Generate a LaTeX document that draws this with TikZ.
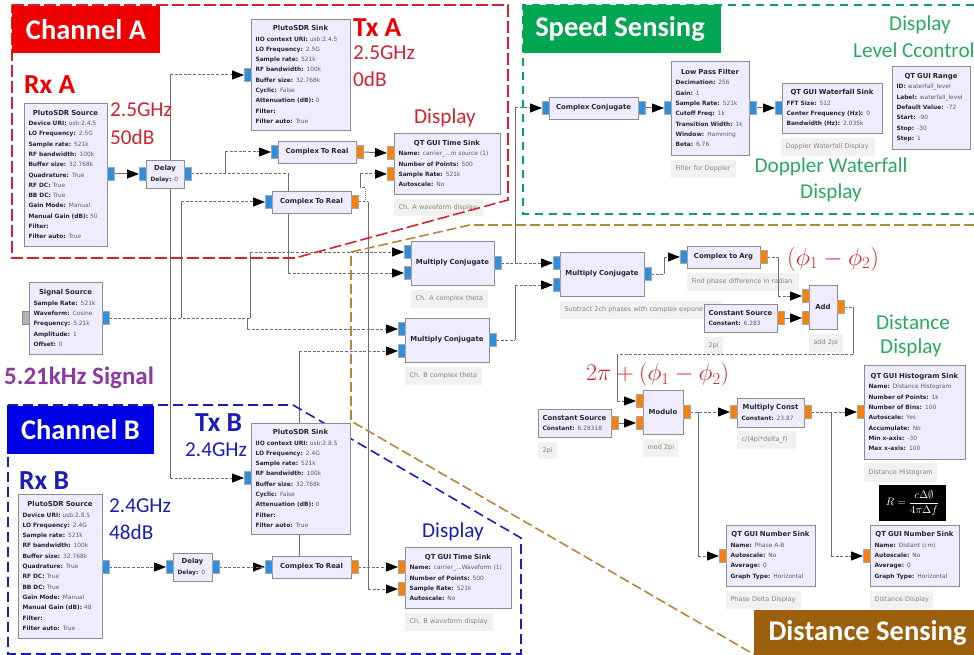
\documentclass[tikz,border=0pt]{standalone}
\usepackage{fontspec}
\setmainfont{Carlito}
\newfontfamily\grcfont{DejaVu Sans}
\usetikzlibrary{arrows.meta,backgrounds}
\definecolor{blockfill}{HTML}{F0ECFF}
\definecolor{blockedge}{HTML}{8C8C94}
\definecolor{keyink}{HTML}{26262E}
\definecolor{valink}{HTML}{5A5A62}
\definecolor{portblue}{HTML}{2F8FDC}
\definecolor{portorange}{HTML}{F5820D}
\definecolor{cmtfill}{HTML}{F1F1F1}
\definecolor{cmtink}{HTML}{85858A}
\definecolor{wireink}{HTML}{6E6E72}
\definecolor{chanred}{HTML}{EE0000}
\definecolor{redtext}{HTML}{CF2330}
\definecolor{redline}{HTML}{D2232F}
\definecolor{chanblue}{HTML}{0000E6}
\definecolor{bluetext}{HTML}{1C1CB8}
\definecolor{changreen}{HTML}{00A651}
\definecolor{greentext}{HTML}{2BA862}
\definecolor{chanbrown}{HTML}{9C5F0C}
\definecolor{brownline}{HTML}{B5873A}
\definecolor{purpletext}{HTML}{8B3A9E}
\tikzset{
  block/.style={draw=blockedge,fill=blockfill,line width=.9pt,anchor=north west,inner xsep=4.5pt,inner ysep=0pt,outer sep=0pt,align=left,text=keyink,font=\grcfont\fontsize{5.9}{10.3}\selectfont},
  port/.style={draw=black!35,line width=.4pt,minimum width=7pt,minimum height=13pt,inner sep=0pt,outer sep=0pt},
  portin/.style={port,fill=portblue},
  portout/.style={port,fill=portorange},
  portnone/.style={port,fill=black!30,draw=black!45},
  note/.style={fill=cmtfill,anchor=north west,inner xsep=4.5pt,inner ysep=0pt,outer sep=0pt,align=left,text=cmtink,font=\grcfont\fontsize{6.5}{8}\selectfont},
  wire/.style={draw=wireink,line width=1pt,dash pattern=on 3pt off 1.6pt},
  trunk/.style={draw=wireink,line width=1pt},
  tipwire/.style={wire,-{Triangle[length=12pt,width=9pt,black]}},
  tiptrunk/.style={trunk,-{Triangle[length=12pt,width=9pt,black]}},
  banner/.style={text=white,inner sep=0pt,outer sep=0pt,font=\fontsize{28.5}{30}\selectfont\bfseries},
  big/.style={anchor=west,inner sep=0pt,font=\fontsize{27.5}{30}\selectfont\bfseries},
  mid/.style={anchor=west,inner sep=0pt,font=\fontsize{21.2}{24}\selectfont},
  midc/.style={inner sep=0pt,font=\fontsize{21.2}{24}\selectfont},
  eqn/.style={anchor=west,inner sep=0pt,text=redtext,font=\fontsize{23.5}{26}\selectfont},
  region/.style={line width=1.6pt}
}
% block body helpers
\newcommand\grcblock[6]{\node[block,text width=\the\dimexpr#4pt-9pt\relax,minimum height=#5pt] (#1) at (#2,#3) {#6};}
\newcommand\grcnote[6]{\node[note,text width=\the\dimexpr#4pt-9pt\relax,minimum height=#5pt] (#1) at (#2,#3) {\mbox{#6}};}
\newcommand\tl[1]{\makebox[\linewidth][c]{\fontsize{6.9}{10.3}\selectfont\bfseries #1}}
\newcommand\kv[2]{\mbox{{\bfseries #1:} \textcolor{valink}{#2}}}
% from, bus, to
\newcommand\buslink[3]{%
  \draw[wire] (#1.east) -- (#1.east -| #2);
  \draw[trunk] (#1.east -| #2) -- (#3.west -| #2);
  \draw[tipwire] (#3.west -| #2) -- (#3.west);
}
\begin{document}
\begin{tikzpicture}[x=1pt,y=-1pt]
\useasboundingbox (0,0) rectangle (974,655);

% comments under everything
\begin{scope}[on background layer]
\grcnote{cmtTa}{394}{199}{89}{17}{Ch. A waveform display}
\grcnote{cmtMa}{411}{290}{77}{18}{Ch. A complex theta}
\grcnote{cmtMb}{405}{367}{77}{18}{Ch. B complex theta}
\grcnote{cmtMc}{560}{301}{163}{18}{Subtract 2ch phases with complex expone}
\grcnote{cmtLp}{671}{160}{65}{18}{Filter for Doppler}
\grcnote{cmtWf}{781}{138}{94}{18}{Doppler Waterfall Display}
\grcnote{cmtArg}{687}{273}{112}{18}{Find phase difference in radian}
\grcnote{cmtCa}{704}{337}{19}{17}{2pi}
\grcnote{cmtAdd}{809}{334}{34}{18}{add 2pi}
\grcnote{cmtMod}{643}{439}{35}{18}{mod 2pi}
\grcnote{cmtCb}{538}{442}{19}{17}{2pi}
\grcnote{cmtMk}{737}{431}{59}{18}{c/(4pi*delta\_f)}
\grcnote{cmtHi}{864}{463}{73}{19}{Distance Histogram}
\grcnote{cmtNa}{726}{591}{75}{18}{Phase Delta Display}
\grcnote{cmtNb}{870}{591}{63}{18}{Distance Display}
\grcnote{cmtTb}{405}{613}{88}{18}{Ch. B waveform display}
\end{scope}

% channel outlines
\draw[region,redline,dash pattern=on 12pt off 4pt] (12,5)--(508,5)--(508,200)--(295,258)--(12,258)--cycle;
\draw[region,changreen,dash pattern=on 8pt off 6pt] (974,5)--(523,5)--(523,214)--(974,214);
\draw[region,brownline,dash pattern=on 10pt off 4pt] (974,225)--(470,225)--(351,252)--(351,421)--(755,655);
\draw[region,bluetext,dash pattern=on 10pt off 5pt] (8,405)--(293,405)--(521,538)--(521,654)--(8,654)--cycle;

% blocks, channel A
\grcblock{srcA}{24}{103}{83}{143}{\tl{PlutoSDR Source}\\\kv{Device URI}{usb:2.4.5}\\\kv{LO Frequency}{2.5G}\\\kv{Sample rate}{521k}\\\kv{RF bandwidth}{100k}\\\kv{Buffer size}{32.768k}\\\kv{Quadrature}{True}\\\kv{RF DC}{True}\\\kv{BB DC}{True}\\\kv{Gain Mode}{Manual}\\\kv{Manual Gain (dB)}{50}\\{\bfseries Filter:}\\\kv{Filter auto}{True}}
\grcblock{dlyA}{146}{160}{38}{28}{\tl{Delay}\\\kv{Delay}{0}}
\grcblock{snkA}{251}{19}{99}{111}{\tl{PlutoSDR Sink}\\\kv{IIO context URI}{usb:2.4.5}\\\kv{LO Frequency}{2.5G}\\\kv{Sample rate}{521k}\\\kv{RF bandwidth}{100k}\\\kv{Buffer size}{32.768k}\\\kv{Cyclic}{False}\\\kv{Attenuation (dB)}{0}\\{\bfseries Filter:}\\\kv{Filter auto}{True}}
\grcblock{ctrAa}{278}{141}{78}{22}{\tl{Complex To Real}}
\grcblock{ctrAb}{272}{191}{79}{22}{\tl{Complex To Real}}
\grcblock{timA}{394}{133}{106}{61}{\tl{QT GUI Time Sink}\\\kv{Name}{carrier\_...m source (1)}\\\kv{Number of Points}{500}\\\kv{Sample Rate}{521k}\\\kv{Autoscale}{No}}
\grcblock{mulA}{411}{241}{83}{44}{\tl{Multiply Conjugate}}
\grcblock{mulB}{405}{318}{84}{44}{\tl{Multiply Conjugate}}
\grcblock{mulC}{560}{252}{84}{44}{\tl{Multiply Conjugate}}
\grcblock{sigS}{29}{282}{73}{72}{\tl{Signal Source}\\\kv{Sample Rate}{521k}\\\kv{Waveform}{Cosine}\\\kv{Frequency}{5.21k}\\\kv{Amplitude}{1}\\\kv{Offset}{0}}

% blocks, speed
\grcblock{cnj}{549}{97}{89}{22}{\tl{Complex Conjugate}}
\grcblock{lpf}{671}{61}{78}{94}{\tl{Low Pass Filter}\\\kv{Decimation}{256}\\\kv{Gain}{1}\\\kv{Sample Rate}{521k}\\\kv{Cutoff Freq}{1k}\\\kv{Transition Width}{1k}\\\kv{Window}{Hamming}\\\kv{Beta}{6.76}}
\grcblock{wfl}{782}{83}{100}{50}{\tl{QT GUI Waterfall Sink}\\\kv{FFT Size}{512}\\\kv{Center Frequency (Hz)}{0}\\\kv{Bandwidth (Hz)}{2.035k}}
\grcblock{rng}{892}{66}{78}{83}{\tl{QT GUI Range}\\\kv{ID}{waterfall\_level}\\\kv{Label}{waterfall\_level}\\\kv{Default Value}{-72}\\\kv{Start}{-90}\\\kv{Stop}{-30}\\\kv{Step}{1}}

% blocks, distance
\grcblock{arg}{687}{246}{73}{22}{\tl{Complex to Arg}}
\grcblock{csA}{704}{304}{73}{28}{\tl{Constant Source}\\\kv{Constant}{6.283}}
\grcblock{add}{809}{285}{28}{44}{\tl{Add}}
\grcblock{csB}{538}{409}{73}{28}{\tl{Constant Source}\\\kv{Constant}{6.28318}}
\grcblock{mdl}{643}{390}{40}{44}{\tl{Modulo}}
\grcblock{mkc}{737}{398}{67}{29}{\tl{Multiply Const}\\\kv{Constant}{23.87}}
\grcblock{hst}{864}{365}{101}{94}{\tl{QT GUI Histogram Sink}\\\kv{Name}{Distance Histogram}\\\kv{Number of Points}{1k}\\\kv{Number of Bins}{100}\\\kv{Autoscale}{Yes}\\\kv{Accumulate}{No}\\\kv{Min x-axis}{-30}\\\kv{Max x-axis}{100}}
\grcblock{numA}{726}{525}{89}{61}{\tl{QT GUI Number Sink}\\\kv{Name}{Phase A-B}\\\kv{Autoscale}{No}\\\kv{Average}{0}\\\kv{Graph Type}{Horizontal}}
\grcblock{numB}{870}{525}{89}{61}{\tl{QT GUI Number Sink}\\\kv{Name}{Distant (cm)}\\\kv{Autoscale}{No}\\\kv{Average}{0}\\\kv{Graph Type}{Horizontal}}

% blocks, channel B
\grcblock{srcB}{18}{494}{84}{144}{\tl{PlutoSDR Source}\\\kv{Device URI}{usb:2.8.5}\\\kv{LO Frequency}{2.4G}\\\kv{Sample rate}{521k}\\\kv{RF bandwidth}{100k}\\\kv{Buffer size}{32.768k}\\\kv{Quadrature}{True}\\\kv{RF DC}{True}\\\kv{BB DC}{True}\\\kv{Gain Mode}{Manual}\\\kv{Manual Gain (dB)}{48}\\{\bfseries Filter:}\\\kv{Filter auto}{True}}
\grcblock{dlyB}{173}{553}{39}{28}{\tl{Delay}\\\kv{Delay}{0}}
\grcblock{snkB}{251}{423}{99}{111}{\tl{PlutoSDR Sink}\\\kv{IIO context URI}{usb:2.8.5}\\\kv{LO Frequency}{2.4G}\\\kv{Sample rate}{521k}\\\kv{RF bandwidth}{100k}\\\kv{Buffer size}{32.768k}\\\kv{Cyclic}{False}\\\kv{Attenuation (dB)}{0}\\{\bfseries Filter:}\\\kv{Filter auto}{True}}
\grcblock{ctrB}{272}{556}{79}{22}{\tl{Complex To Real}}
\grcblock{timB}{405}{547}{106}{61}{\tl{QT GUI Time Sink}\\\kv{Name}{carrier\_...Waveform (1)}\\\kv{Number of Points}{500}\\\kv{Sample Rate}{521k}\\\kv{Autoscale}{No}}

% ports
\node[portin] (srcAo) at (110.5,174) {};
\node[portin] (dlyAi) at (142.5,174) {};
\node[portin] (dlyAo) at (187.5,174) {};
\node[portin] (snkAi) at (247.5,75) {};
\node[portin] (ctrAai) at (274.5,152) {};
\node[portout] (ctrAao) at (359.5,152) {};
\node[portin] (ctrAbi) at (268.5,202) {};
\node[portout] (ctrAbo) at (354.5,202) {};
\node[portout] (timAa) at (390.5,153) {};
\node[portout] (timAb) at (390.5,174) {};
\node[portin] (mulAa) at (407.5,252) {};
\node[portin] (mulAb) at (407.5,273) {};
\node[portin] (mulAo) at (497.5,263) {};
\node[portin] (mulBa) at (401.5,329) {};
\node[portin] (mulBb) at (401.5,351) {};
\node[portin] (mulBo) at (492.5,340) {};
\node[portin] (mulCa) at (556.5,263) {};
\node[portin] (mulCb) at (556.5,285) {};
\node[portin] (mulCo) at (647.5,274) {};
\node[portnone] (sigSn) at (25.5,318) {};
\node[portin] (sigSo) at (105.5,318) {};
\node[portin] (cnji) at (545.5,108) {};
\node[portin] (cnjo) at (641.5,108) {};
\node[portin] (lpfi) at (667.5,108) {};
\node[portin] (lpfo) at (752.5,108) {};
\node[portin] (wfli) at (778.5,108) {};
\node[portin] (argi) at (683.5,257) {};
\node[portout] (argo) at (763.5,257) {};
\node[portout] (csAo) at (780.5,318) {};
\node[portout] (adda) at (805.5,296) {};
\node[portout] (addb) at (805.5,318) {};
\node[portout] (addo) at (840.5,307) {};
\node[portout] (csBo) at (614.5,423) {};
\node[portout] (mdla) at (639.5,401) {};
\node[portout] (mdlb) at (639.5,423) {};
\node[portout] (mdlo) at (686.5,412) {};
\node[portout] (mkci) at (733.5,412) {};
\node[portout] (mkco) at (807.5,412) {};
\node[portout] (hsti) at (860.5,412) {};
\node[portout] (numAi) at (722.5,556) {};
\node[portout] (numBi) at (866.5,556) {};
\node[portin] (srcBo) at (105.5,567) {};
\node[portin] (dlyBi) at (169.5,567) {};
\node[portin] (dlyBo) at (215.5,567) {};
\node[portin] (snkBi) at (247.5,478) {};
\node[portin] (ctrBi) at (268.5,567) {};
\node[portout] (ctrBo) at (354.5,567) {};
\node[portout] (timBa) at (401.5,567) {};
\node[portout] (timBb) at (401.5,589) {};

% buses
\coordinate (busSnk) at (170,0);
\coordinate (busCtr) at (181,0);
\coordinate (busDa) at (225,0);
\coordinate (busMb) at (247,0);
\coordinate (busMa) at (250,0);
\coordinate (busDb) at (288,0);
\coordinate (busB) at (299,0);
\coordinate (busTm) at (368,0);
\coordinate (busCj) at (515,0);
\coordinate (busPh) at (664,0);
\coordinate (busAr) at (778,0);
\coordinate (busPd) at (698,0);
\coordinate (busDs) at (831,0);
\coordinate (jogA) at (365,188);
\coordinate (jogB) at (360,188);
\coordinate (backR) at (853,354);
\coordinate (backL) at (617,354);

% wires sit behind the blocks
\begin{scope}[on background layer]
\draw[tiptrunk] (srcAo.east) -- (dlyAi.west);
\buslink{dlyAo}{busDa}{ctrAai}
\buslink{dlyAo}{busDb}{mulAb}
\buslink{sigSo}{busSnk}{snkAi}
\buslink{sigSo}{busSnk}{snkBi}
\buslink{sigSo}{busCtr}{ctrAbi}
\buslink{sigSo}{busMa}{mulAa}
\buslink{sigSo}{busMb}{mulBa}
\draw[tiptrunk] (ctrAao.east) -- (timAa.west);
\draw[wire] (ctrAbo.east) -- (ctrAbo.east -| busTm);
\draw[trunk,densely dotted] (ctrAbo.east -| jogA) -- (jogA);
\draw[wire] (jogA) -- (jogB);
\draw[trunk] (jogB) -- (timAb.west -| jogB);
\draw[tipwire] (timAb.west -| jogB) -- (timAb.west);
\draw[trunk] (ctrAbo.east -| busTm) -- (timBb.west -| busTm);
\draw[tipwire] (timBb.west -| busTm) -- (timBb.west);
\draw[tipwire] (srcBo.east) -- (dlyBi.west);
\draw[tipwire] (dlyBo.east) -- (ctrBi.west);
\buslink{dlyBo}{busB}{mulBb}
\draw[tipwire] (ctrBo.east) -- (timBa.west);
\draw[tipwire] (mulAo.east) -- (mulCa.west);
\buslink{mulAo}{busCj}{cnji}
\buslink{mulBo}{busCj}{mulCb}
\draw[tiptrunk] (cnjo.east) -- (lpfi.west);
\draw[tiptrunk] (lpfo.east) -- (wfli.west);
\buslink{mulCo}{busPh}{argi}
\buslink{argo}{busAr}{adda}
\draw[tiptrunk] (csAo.east) -- (addb.west);
\draw[wire] (addo.east) -- (addo.east -| backR);
\draw[trunk] (addo.east -| backR) -- (backR);
\draw[wire] (backR) -- (backL);
\draw[trunk] (backL) -- (mdla.west -| backL);
\draw[tipwire] (mdla.west -| backL) -- (mdla.west);
\draw[tiptrunk] (csBo.east) -- (mdlb.west);
\draw[tipwire] (mdlo.east) -- (mkci.west);
\buslink{mdlo}{busPd}{numAi}
\draw[tipwire] (mkco.east) -- (hsti.west);
\buslink{mkco}{busDs}{numBi}
\end{scope}

% banners
\node[banner,fill=chanred,minimum width=148pt,minimum height=47pt] (tagA) at (86,29.5) {Channel A};
\node[banner,fill=chanblue,minimum width=147pt,minimum height=48pt] (tagB) at (80.5,430) {Channel B};
\node[banner,fill=changreen,minimum width=198pt,minimum height=48pt] (tagS) at (622,29) {Speed Sensing\hspace*{4pt}};
\node[banner,fill=chanbrown,minimum width=220pt,minimum height=45pt] (tagD) at (864,632.5) {\hspace*{7pt}Distance Sensing};

% labels, channel A
\node[big,chanred] (lblRxA) at (24,85) {Rx A};
\node[big,chanred] (lblTxA) at (353,28) {Tx A};
\node[mid,redtext] (lblRxAf) at (110,110) {2.5GHz};
\node[mid,redtext] (lblRxAg) at (110,137) {50dB};
\node[mid,redtext] (lblTxAf) at (353,53) {2.5GHz};
\node[mid,redtext] (lblTxAg) at (353,79) {0dB};
\node[mid,redtext] (lblDsA) at (414,118) {Display};
% labels, speed
\node[midc,greentext] (lblLvA) at (920,25) {Display};
\node[mid,greentext] (lblLvB) at (853,50) {Level Ccontrol};
\node[midc,greentext] (lblWfA) at (831,167) {Doppler Waterfall};
\node[midc,greentext] (lblWfB) at (831,193) {Display};
% labels, distance
\node[midc,greentext] (lblDdA) at (913,322) {Distance};
\node[midc,greentext] (lblDdB) at (911,348) {Display};
\node[eqn] (eqnPh) at (787,259) {\scalebox{.98}{$(\phi_1-\phi_2)$}};
\node[eqn] (eqnMd) at (586,375) {\scalebox{.96}{$2\pi+(\phi_1-\phi_2)$}};
\node[fill=black,text=white,inner sep=0pt,minimum width=67pt,minimum height=36pt,font=\fontsize{11}{12}\selectfont] (eqnR) at (912.5,503) {$\displaystyle R=\frac{c\Delta\emptyset}{4\pi\Delta f}$};
% labels, signal
\node[anchor=west,inner sep=0pt,text=purpletext,font=\fontsize{25}{28}\selectfont\bfseries] (lblSig) at (4,378) {5.21kHz Signal};
% labels, channel B
\node[big,bluetext] (lblRxB) at (19,481) {Rx B};
\node[big,bluetext] (lblTxB) at (195,423) {Tx B};
\node[mid,bluetext] (lblTxBf) at (185,450) {2.4GHz};
\node[mid,bluetext] (lblRxBf) at (109,506) {2.4GHz};
\node[mid,bluetext] (lblRxBg) at (109,532) {48dB};
\node[mid,bluetext] (lblDsB) at (422,532) {Display};
\end{tikzpicture}
\end{document}
